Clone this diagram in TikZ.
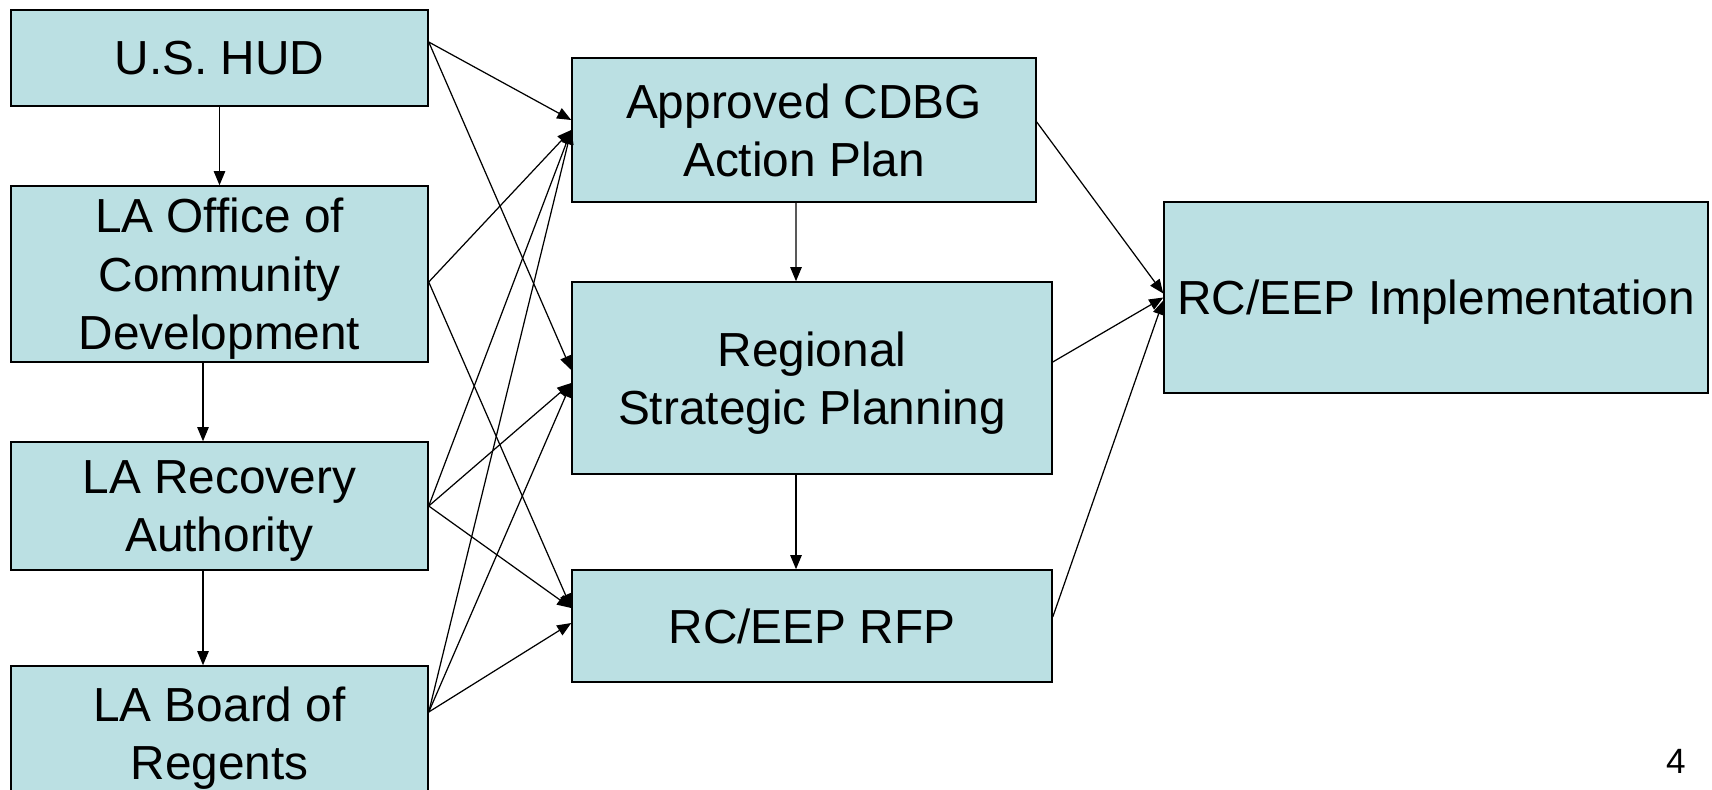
\documentclass[tikz,border=0pt]{standalone}
\usepackage{fontspec}
\setmainfont{Liberation Sans}
\usetikzlibrary{arrows.meta}
\definecolor{stagefill}{RGB}{187,224,227}
\tikzset{
	stage/.style={
			draw=black, line width=0.9pt, fill=stagefill,
			align=center, inner sep=0pt, text depth=0pt,
			font=\fontsize{27.2}{33.2}\selectfont
		},
	link/.style={-{Triangle[length=8pt,width=6.5pt]}, line width=0.7pt}
}

\begin{document}
\begin{tikzpicture}[x=0.02cm, y=-0.02cm]

	\useasboundingbox (0,0) rectangle (1712,789);

	% Left column: agencies
	\node[stage, minimum width=8.34cm, minimum height=1.92cm] (hud) at (219.5,58) {U.S. HUD};
	\node[stage, minimum width=8.34cm, minimum height=3.52cm] (ocd) at (219.5,274) {LA Office of\\Community\\Development};
	\node[stage, minimum width=8.34cm, minimum height=2.56cm] (lra) at (219.5,506) {LA Recovery\\Authority};
	\node[stage, minimum width=8.34cm, minimum height=2.68cm] (regents) at (219.5,733) {LA Board of\\Regents};

	% Middle column: planning steps
	\node[stage, minimum width=9.28cm, minimum height=2.88cm] (cdbg) at (804,130) {Approved CDBG\\Action Plan};
	\node[stage, minimum width=9.60cm, minimum height=3.84cm] (rsp) at (812,378) {Regional\\Strategic Planning};
	\node[stage, minimum width=9.60cm, minimum height=2.24cm] (rfp) at (812,626) {RC/EEP RFP};

	% Right: implementation
	\node[stage, minimum width=10.88cm, minimum height=3.82cm] (impl) at (1436,297.5) {RC/EEP Implementation};

	% Page number
	\node[font=\fontsize{20}{24}\selectfont] (pagenum) at (1676,761) {4};

	% Down the left column
	\draw[link] (hud.south) -- (ocd.north);
	\draw[link] ([xshift=-0.33cm]ocd.south) -- ([xshift=-0.33cm]lra.north);
	\draw[link] ([xshift=-0.33cm]lra.south) -- ([xshift=-0.33cm]regents.north);

	% Down the middle column
	\draw[link] ([xshift=-0.16cm]cdbg.south) -- ([xshift=-0.32cm]rsp.north);
	\draw[link] ([xshift=-0.32cm]rsp.south) -- ([xshift=-0.32cm]rfp.north);

	% Agencies to planning steps
	\draw[link] ([yshift=0.32cm]hud.east) -- ([yshift=0.2cm]cdbg.west);
	\draw[link] ([yshift=0.32cm]hud.east) -- ([yshift=0.16cm]rsp.west);
	\draw[link] ([yshift=-0.16cm]ocd.east) -- (cdbg.west);
	\draw[link] ([yshift=-0.16cm]ocd.east) -- ([yshift=0.36cm]rfp.west);
	\draw[link] (lra.east) -- (cdbg.west);
	\draw[link] (lra.east) -- ([yshift=-0.1cm]rsp.west);
	\draw[link] (lra.east) -- ([yshift=0.36cm]rfp.west);
	\draw[link] ([yshift=0.42cm]regents.east) -- (cdbg.west);
	\draw[link] ([yshift=0.42cm]regents.east) -- ([yshift=-0.1cm]rsp.west);
	\draw[link] ([yshift=0.42cm]regents.east) -- ([yshift=0.06cm]rfp.west);

	% Planning steps to implementation
	\draw[link] ([yshift=0.16cm]cdbg.east) -- ([yshift=0.08cm]impl.west);
	\draw[link] ([yshift=0.32cm]rsp.east) -- (impl.west);
	\draw[link] ([yshift=0.18cm]rfp.east) -- ([yshift=-0.06cm]impl.west);

\end{tikzpicture}
\end{document}
